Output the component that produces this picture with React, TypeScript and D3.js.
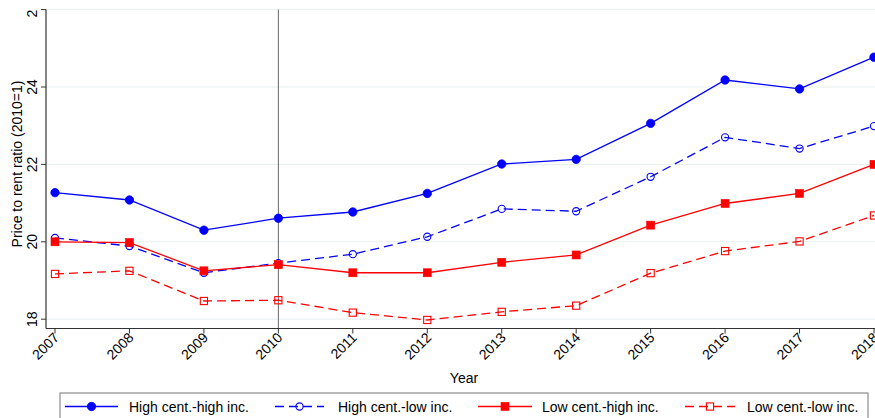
import React from "react";
import * as d3 from "d3";

const years = [2007, 2008, 2009, 2010, 2011, 2012, 2013, 2014, 2015, 2016, 2017, 2018];
const highHigh = [21.27, 21.08, 20.3, 20.61, 20.77, 21.25, 22.01, 22.13, 23.06, 24.18, 23.95, 24.77];
const highLow = [20.1, 19.89, 19.2, 19.45, 19.68, 20.13, 20.85, 20.79, 21.68, 22.7, 22.41, 22.99];
const lowHigh = [20.0, 19.98, 19.25, 19.41, 19.2, 19.2, 19.47, 19.66, 20.43, 20.99, 21.25, 22.0];
const lowLow = [19.17, 19.25, 18.47, 18.49, 18.17, 17.98, 18.19, 18.35, 19.19, 19.76, 20.01, 20.68];
const yTicks = [18, 20, 22, 24, 26];
const yTickLabels = ["18", "20", "22", "24", "2"];
const seriesNames = ["High cent.-high inc.", "High cent.-low inc.", "Low cent.-high inc.", "Low cent.-low inc."];

type Marker = "filledCircle" | "openCircle" | "filledSquare" | "openSquare";
const series: { name: string; values: number[]; color: string; dashed: boolean; marker: Marker }[] = [
  { name: seriesNames[0], values: highHigh, color: "#0000ff", dashed: false, marker: "filledCircle" },
  { name: seriesNames[1], values: highLow, color: "#0000ff", dashed: true, marker: "openCircle" },
  { name: seriesNames[2], values: lowHigh, color: "#ff0000", dashed: false, marker: "filledSquare" },
  { name: seriesNames[3], values: lowLow, color: "#ff0000", dashed: true, marker: "openSquare" },
];

const W = 875;
const H = 418;
const FONT = "'Liberation Sans', Arial, Helvetica, sans-serif";

const x = d3.scaleLinear().domain([2007, 2018]).range([55, 874]);
const y = d3.scaleLinear().domain([18, 24]).range([319.2, 87]);
const axisX = 46;
const axisY = 328.5;

function MarkerShape({ kind, cx, cy, color }: { kind: Marker; cx: number; cy: number; color: string }) {
  switch (kind) {
    case "filledCircle":
      return <circle cx={cx} cy={cy} r={4.2} fill={color} stroke={color} strokeWidth={0.8} />;
    case "openCircle":
      return <circle cx={cx} cy={cy} r={3.6} fill="none" stroke={color} strokeWidth={1.1} />;
    case "filledSquare":
      return <rect x={cx - 4} y={cy - 4} width={8} height={8} fill={color} stroke={color} strokeWidth={0.6} />;
    case "openSquare":
      return <rect x={cx - 3.6} y={cy - 3.6} width={7.2} height={7.2} fill="none" stroke={color} strokeWidth={1.1} />;
  }
}

export default function App() {
  const line = d3
    .line<number>()
    .x((_, i) => x(years[i]))
    .y((d) => y(d));

  const legendItems = [
    { lineX0: 65, lineX1: 118, textX: 129 },
    { lineX0: 275, lineX1: 324, textX: 338 },
    { lineX0: 478, lineX1: 532, textX: 542 },
    { lineX0: 685, lineX1: 735, textX: 747 },
  ];
  const legendY = 406.5;

  return (
    <svg
      width={W}
      height={H}
      style={{ position: "absolute", left: 0, top: 0, background: "#fff" }}
      fontFamily={FONT}
    >
      <rect x={0} y={0} width={W} height={H} fill="#fff" />
      {/* grid */}
      {yTicks.map((t) => (
        <line key={"g" + t} x1={axisX} x2={W} y1={y(t)} y2={y(t)} stroke="#e6eff1" strokeWidth={1} />
      ))}
      {/* vertical reference line at 2010 */}
      <line x1={x(2010)} x2={x(2010)} y1={y(26)} y2={axisY} stroke="#666" strokeWidth={1} />

      {/* series */}
      {series.map((s) => (
        <g key={s.name}>
          <path
            d={line(s.values) || ""}
            fill="none"
            stroke={s.color}
            strokeWidth={1.3}
            strokeDasharray={s.dashed ? "9,5" : undefined}
          />
          {s.values.map((v, i) => (
            <MarkerShape key={i} kind={s.marker} cx={x(years[i])} cy={y(v)} color={s.color} />
          ))}
        </g>
      ))}

      {/* axes */}
      <line x1={axisX} x2={axisX} y1={y(26)} y2={axisY} stroke="#333" strokeWidth={1.2} />
      <line x1={axisX} x2={W} y1={axisY} y2={axisY} stroke="#333" strokeWidth={1.2} />
      {yTicks.map((t, i) => (
        <g key={"yt" + t}>
          <line x1={axisX - 5} x2={axisX} y1={y(t)} y2={y(t)} stroke="#333" strokeWidth={1} />
          <text
            transform={`translate(${axisX - 9},${y(t)}) rotate(-90)`}
            textAnchor={i === yTicks.length - 1 ? "end" : "middle"}
            fontSize={14}
            fill="#000"
          >
            {yTickLabels[i]}
          </text>
        </g>
      ))}
      {years.map((yr) => (
        <g key={"xt" + yr}>
          <line x1={x(yr)} x2={x(yr)} y1={axisY} y2={axisY + 5} stroke="#333" strokeWidth={1} />
          <text
            transform={`translate(${x(yr) + 5},${axisY + 10}) rotate(-45)`}
            textAnchor="end"
            fontSize={14}
            fill="#000"
          >
            {String(yr)}
          </text>
        </g>
      ))}
      <text x={464} y={383} textAnchor="middle" fontSize={14} fill="#000">
        Year
      </text>
      <text
        transform={`translate(22,164) rotate(-90)`}
        textAnchor="middle"
        fontSize={14}
        fill="#000"
      >
        Price to rent ratio (2010=1)
      </text>

      {/* legend */}
      <rect x={60} y={393} width={808} height={40} fill="#fff" stroke="#777" strokeWidth={1} />
      {series.map((s, i) => {
        const it = legendItems[i];
        const mx = (it.lineX0 + it.lineX1) / 2;
        return (
          <g key={"lg" + i}>
            <line
              x1={it.lineX0}
              x2={it.lineX1}
              y1={legendY}
              y2={legendY}
              stroke={s.color}
              strokeWidth={1.3}
              strokeDasharray={s.dashed ? "9,5" : undefined}
            />
            <MarkerShape kind={s.marker} cx={mx} cy={legendY} color={s.color} />
            <text x={it.textX} y={legendY + 5} fontSize={14} fill="#000">
              {s.name}
            </text>
          </g>
        );
      })}
    </svg>
  );
}
